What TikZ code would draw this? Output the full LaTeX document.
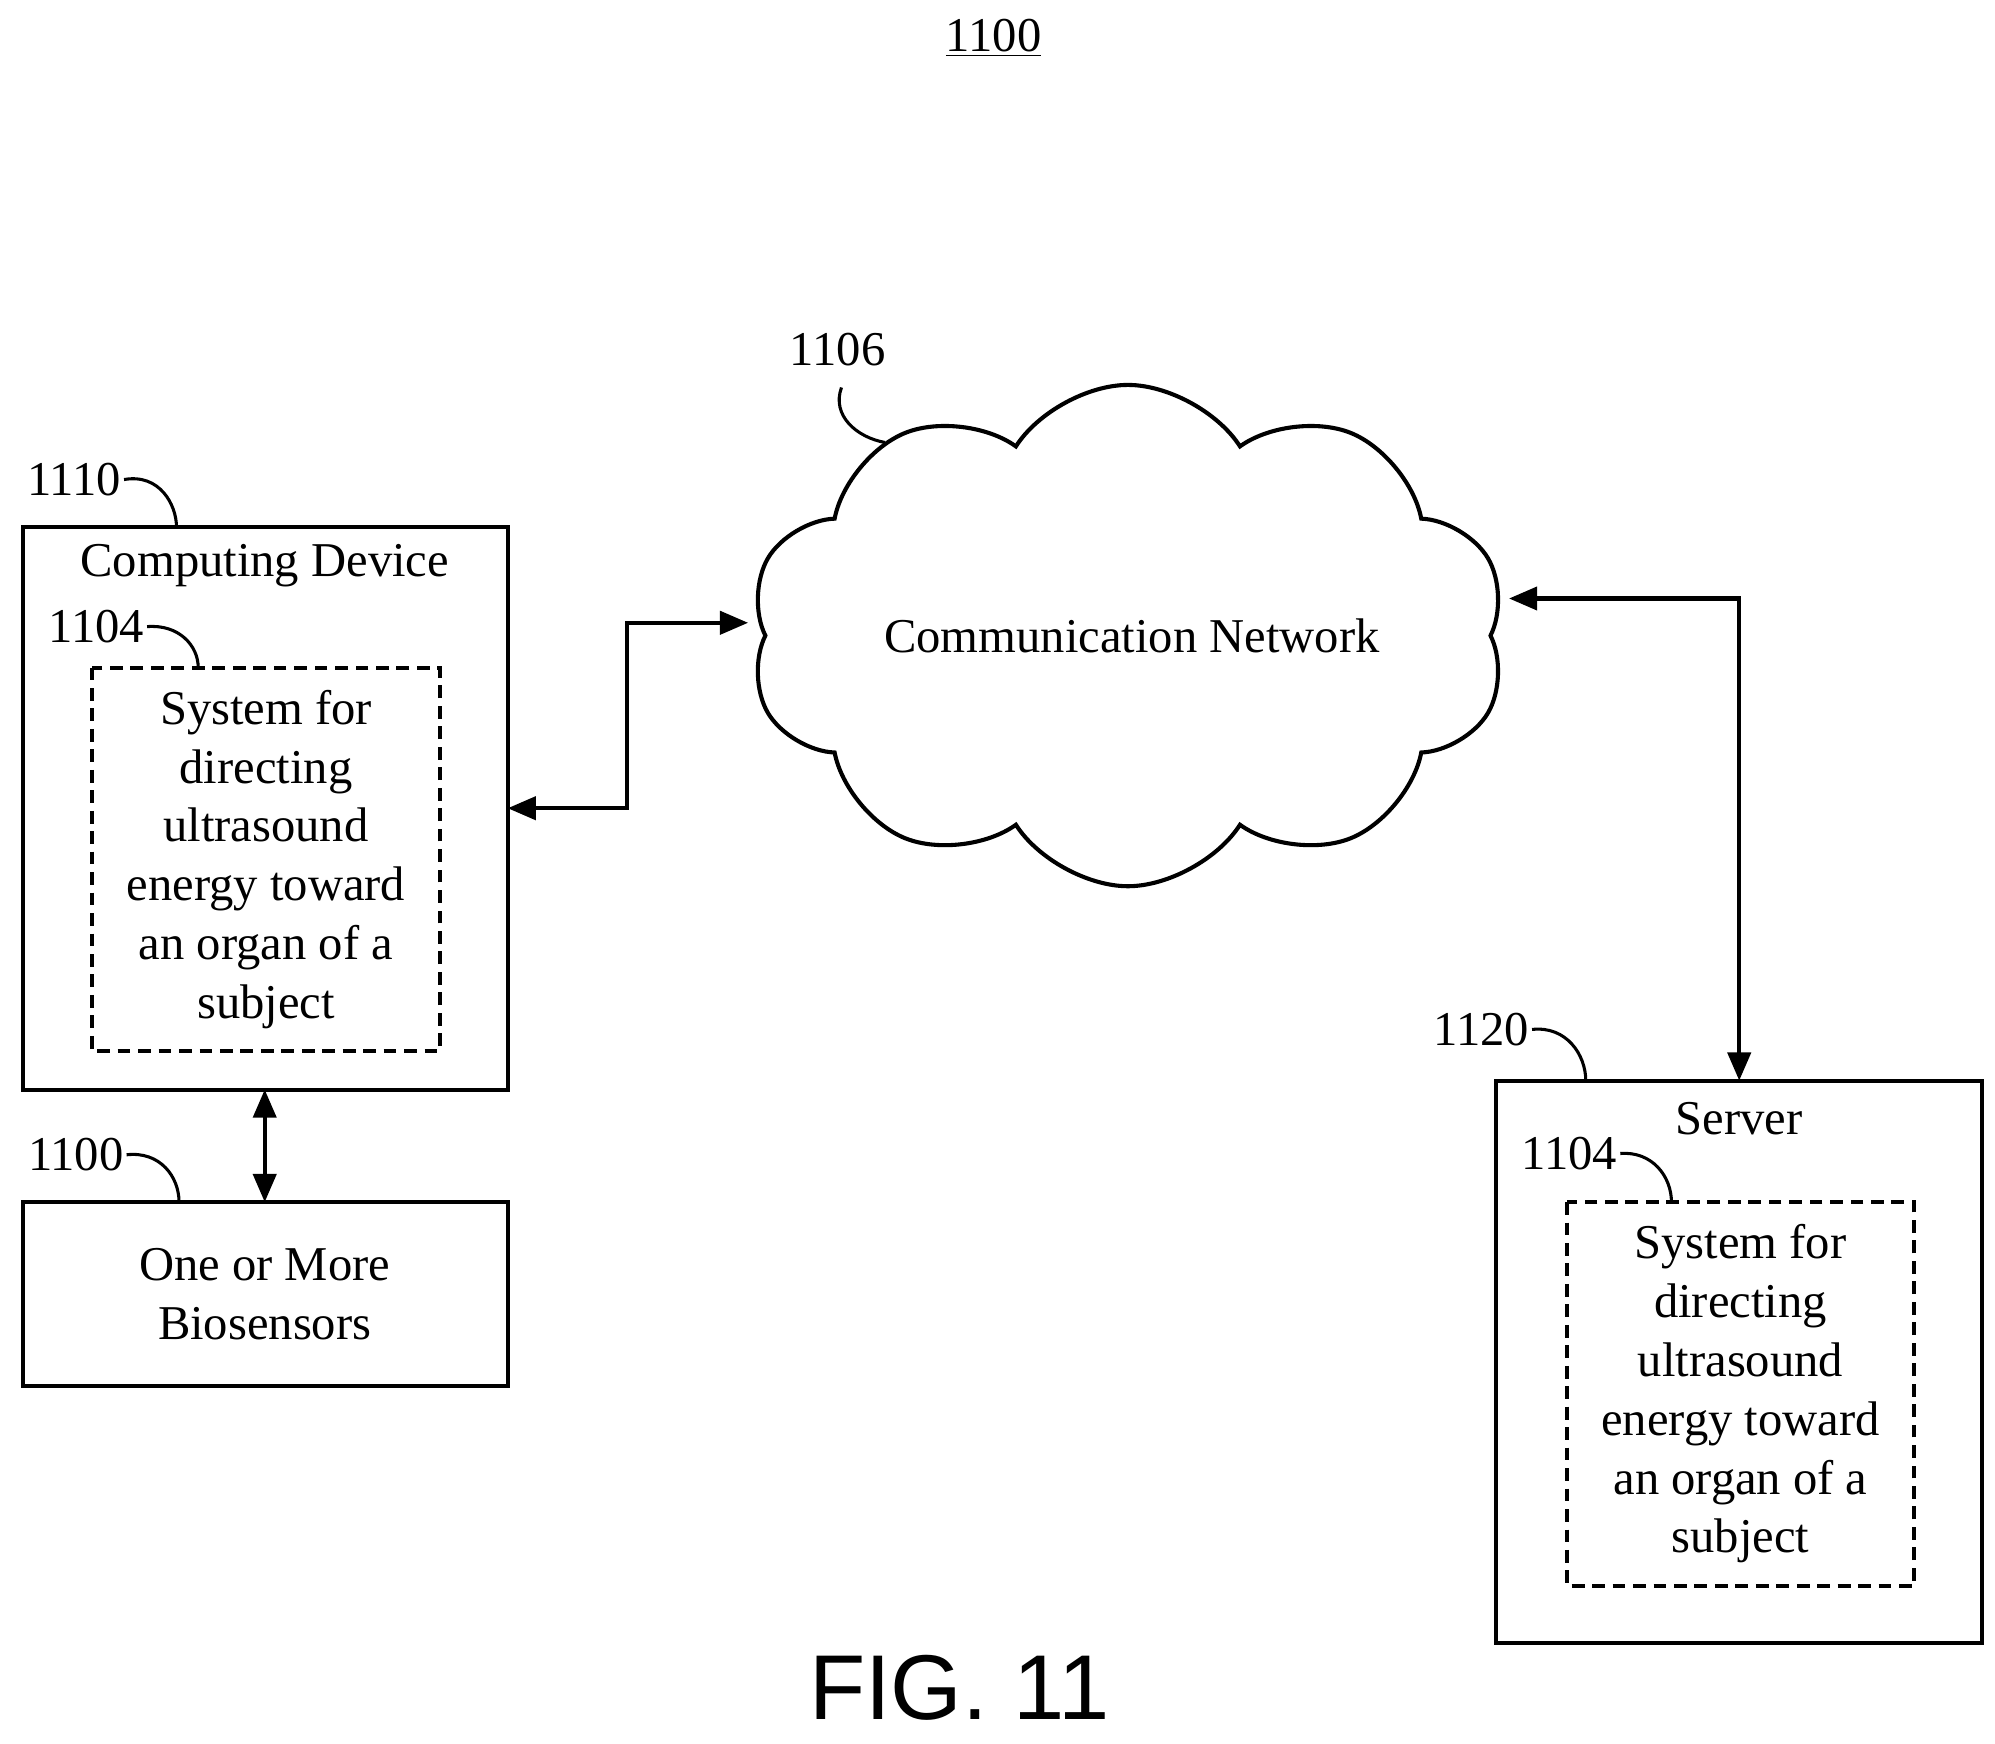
\documentclass[tikz,border=0pt]{standalone}
\usepackage{fontspec}
\setmainfont{Liberation Serif}
\setsansfont{Liberation Sans}
\usetikzlibrary{shapes.symbols,arrows.meta}
\begin{document}
\begin{tikzpicture}[x=0.5pt,y=-0.5pt,
  box/.style={draw,line width=1.6pt},
  dbox/.style={draw,line width=1.6pt,dash pattern=on 5pt off 3pt},
  txt/.style={font=\fontsize{19}{23}\selectfont,align=center,inner sep=0},
  lbl/.style={font=\fontsize{19}{23}\selectfont,inner sep=1pt},
  lead/.style={line width=1.2pt},
  conn/.style={line width=1.6pt,{Triangle[length=11pt,width=9pt]}-{Triangle[length=11pt,width=9pt]}}]
\useasboundingbox (0,0) rectangle (1560,1363);
\node[lbl] (t) at (777,30) {\underline{1100}};
% computing device
\draw[box] (18,412) rectangle (397,852);
\coordinate (cdR) at (397,632);
\coordinate (cdB) at (207,852);
\node[txt] (cdt) at (207,442) {Computing Device};
\draw[dbox] (72,522) rectangle (344,822);
\node[txt] (cds) at (208,672) {System for\\directing\\ultrasound\\energy toward\\an organ of a\\subject};
\node[lbl,anchor=east] (l1110) at (97,375) {1110};
\draw[lead] (l1110.east) .. controls (125,370) and (138,395) .. (138,412);
\node[lbl,anchor=east] (l1104a) at (115,490) {1104};
\draw[lead] (l1104a.east) .. controls (140,488) and (155,505) .. (155,522);
% biosensors
\draw[box] (18,940) rectangle (397,1084);
\coordinate (bsT) at (207,940);
\node[txt] (bst) at (207,1012) {One or More\\Biosensors};
\node[lbl,anchor=east] (l1100) at (99,903) {1100};
\draw[lead] (l1100.east) .. controls (125,900) and (140,920) .. (140,940);
\draw[conn] (cdB) -- (bsT);
% cloud
\node[cloud,draw,line width=1.6pt,cloud puffs=10,cloud puff arc=115,aspect=1.5,
  minimum width=296pt,minimum height=196pt,inner sep=0] (cloud) at (882,497) {};
\node[txt] (ct) at (885,497) {Communication Network};
\node[lbl] (l1106) at (655,273) {1106};
\draw[lead] (658,303) .. controls (650,325) and (670,342) .. (692,346);
\coordinate (cl) at (585,487);
\coordinate (cr) at (1180,468);
\draw[conn] (cdR) -- (490,632) -- (490,487) -- (cl);
% server
\draw[box] (1170,845) rectangle (1550,1285);
\coordinate (svT) at (1360,845);
\node[txt] (svt) at (1360,875) {Server};
\draw[dbox] (1225,940) rectangle (1497,1240);
\node[txt] (svs) at (1361,1090) {System for\\directing\\ultrasound\\energy toward\\an organ of a\\subject};
\node[lbl,anchor=east] (l1104b) at (1267,902) {1104};
\draw[lead] (l1104b.east) .. controls (1292,900) and (1307,920) .. (1307,940);
\node[lbl,anchor=east] (l1120) at (1198,805) {1120};
\draw[lead] (l1120.east) .. controls (1225,802) and (1240,825) .. (1240,845);
\draw[conn] (cr) -- (1360,468) -- (svT);
\node[font=\sffamily\fontsize{36}{38}\selectfont] (fig) at (750,1320) {FIG. 11};
\end{tikzpicture}
\end{document}
